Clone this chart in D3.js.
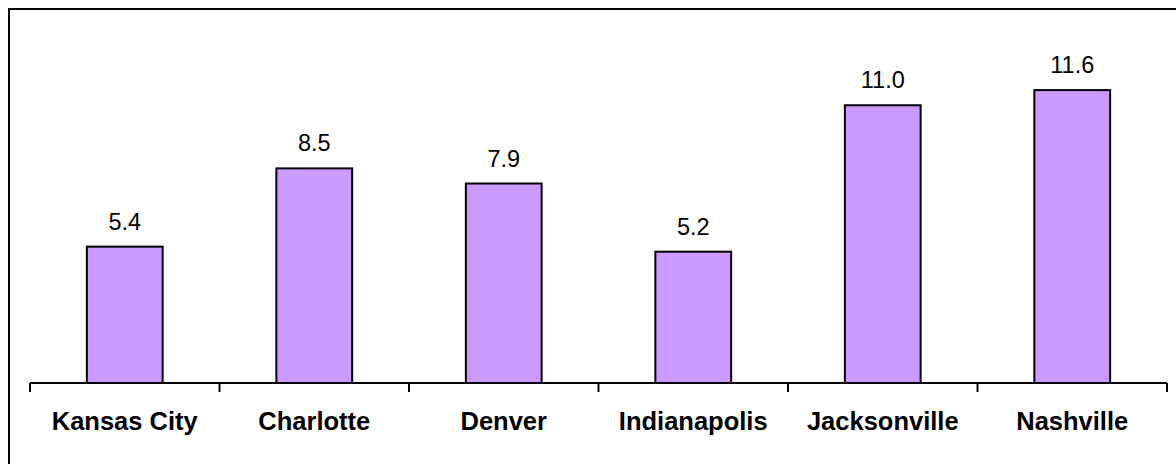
<!DOCTYPE html>
<html>
<head>
<meta charset="utf-8">
<script src="https://cdn.jsdelivr.net/npm/d3@7"></script>
<style>
  html, body { margin: 0; padding: 0; background: #fff; }
  svg { display: block; }
</style>
</head>
<body>
<svg id="chart" width="1176" height="464"></svg>
<script>
// City values
const cities = ["Kansas City", "Charlotte", "Denver", "Indianapolis", "Jacksonville", "Nashville"];
const values = [5.4, 8.5, 7.9, 5.2, 11.0, 11.6];
const valueLabels = ["5.4", "8.5", "7.9", "5.2", "11.0", "11.6"];
const yDomain = [0, 14];

const svg = d3.select("#chart");
const W = 1176, H = 464;

// outer frame (runs off the right and bottom edges)
svg.append("rect")
  .attr("x", 9).attr("y", 9)
  .attr("width", W + 20).attr("height", H + 20)
  .attr("fill", "#fff")
  .attr("stroke", "#000")
  .attr("stroke-width", 2);

const x = d3.scaleBand().domain(cities).range([30, 1167]).padding(0);
const y = d3.scaleLinear().domain(yDomain).range([383, 29.5]);
const barW = x.bandwidth() * 0.4;

// bars
svg.append("g").selectAll("rect")
  .data(values)
  .join("rect")
  .attr("x", (d, i) => x(cities[i]) + (x.bandwidth() - barW) / 2)
  .attr("y", d => y(d))
  .attr("width", barW)
  .attr("height", d => y(0) - y(d))
  .attr("fill", "#CC99FF")
  .attr("stroke", "#000")
  .attr("stroke-width", 2);

// value labels
svg.append("g").selectAll("text")
  .data(values)
  .join("text")
  .attr("x", (d, i) => x(cities[i]) + x.bandwidth() / 2)
  .attr("y", d => y(d) - 17)
  .attr("text-anchor", "middle")
  .attr("font-family", "Liberation Sans, Arial, sans-serif")
  .attr("font-size", 23.5)
  .attr("fill", "#000")
  .text((d, i) => valueLabels[i]);

// category axis with boundary ticks
const ax = svg.append("g");
ax.append("line")
  .attr("x1", x.range()[0]).attr("x2", x.range()[1])
  .attr("y1", y(0)).attr("y2", y(0))
  .attr("stroke", "#000").attr("stroke-width", 2);
const bounds = cities.map(c => x(c)).concat([x.range()[1]]);
ax.selectAll("line.tick")
  .data(bounds)
  .join("line")
  .attr("class", "tick")
  .attr("x1", d => d).attr("x2", d => d)
  .attr("y1", y(0)).attr("y2", y(0) + 9)
  .attr("stroke", "#000").attr("stroke-width", 2);
ax.selectAll("text")
  .data(cities)
  .join("text")
  .attr("x", d => x(d) + x.bandwidth() / 2)
  .attr("y", 429.5)
  .attr("text-anchor", "middle")
  .attr("font-family", "Liberation Sans, Arial, sans-serif")
  .attr("font-weight", "bold")
  .attr("font-size", 25.5)
  .attr("fill", "#000")
  .text(d => d);
</script>
</body>
</html>
